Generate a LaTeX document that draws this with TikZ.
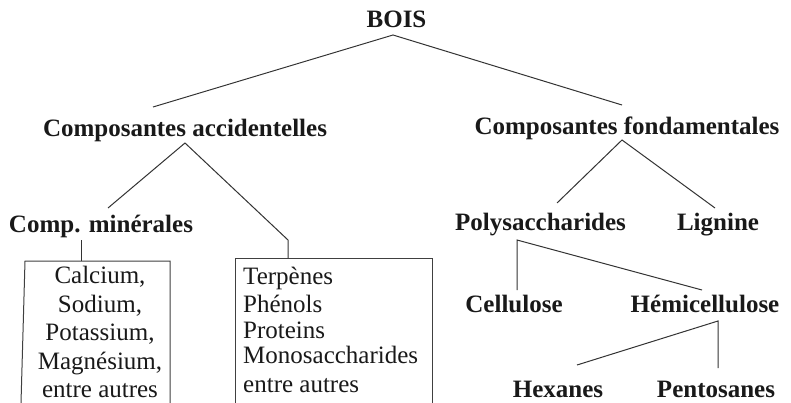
\documentclass[tikz,border=0pt]{standalone}
\usepackage{fontspec}
\setmainfont{Liberation Serif}
\begin{document}
\begin{tikzpicture}[x=1pt,y=-1pt,
  head/.style={font=\bfseries\fontsize{25}{29}\selectfont, anchor=base, inner sep=0pt, text=black!90},
  itemc/.style={font=\fontsize{25}{29}\selectfont, anchor=base, inner sep=0pt, text=black!90},
  iteml/.style={itemc, anchor=base west},
  link/.style={draw=black!80, line width=1pt},
  boxline/.style={draw=black!75, line width=1pt}]
\useasboundingbox[fill=white] (0,0) rectangle (791,403);
% headings
\node[head] (bois) at (396.5,28) {BOIS};
\node[head] (acc) at (185,137) {Composantes accidentelles};
\node[head] (fond) at (627,135) {Composantes fondamentales};
\node[head] (min) at (101,233) {Comp. minérales};
\node[head] (poly) at (540.5,230) {Polysaccharides};
\node[head] (lig) at (718,230) {Lignine};
\node[head] (cell) at (514,312) {Cellulose};
\node[head] (hemi) at (705,312) {Hémicellulose};
\node[head] (hex) at (558,397) {Hexanes};
\node[head] (pent) at (716,397) {Pentosanes};
% left box text
\node[itemc] (ca) at (100,283) {Calcium,};
\node[itemc] (na) at (100,312) {Sodium,};
\node[itemc] (k) at (100,340) {Potassium,};
\node[itemc] (mg) at (100,369) {Magnésium,};
\node[itemc] (ea1) at (100,397) {entre autres};
% right box text
\node[iteml] (terp) at (243,284) {Terpènes};
\node[iteml] (phen) at (243,312) {Phénols};
\node[iteml] (prot) at (243,338) {Proteins};
\node[iteml] (mono) at (243,363) {Monosaccharides};
\node[iteml] (ea2) at (243,392) {entre autres};
% connector points
\coordinate (bois-b) at (393,35);
\coordinate (acc-t) at (153,107);
\coordinate (fond-t) at (622,105);
\coordinate (acc-b) at (185,143);
\coordinate (min-t) at (108,208);
\coordinate (bend) at (288,240);
\coordinate (box2-t) at (288,258);
\coordinate (fond-b) at (622,140);
\coordinate (poly-t) at (557,203);
\coordinate (lig-t) at (715,208);
\coordinate (min-b) at (81,240);
\coordinate (box1-t) at (81,261);
\coordinate (poly-b) at (517,240);
\coordinate (cell-t) at (517,290);
\coordinate (hemi-t) at (702,290);
\coordinate (hemi-b) at (718,321);
\coordinate (hex-t) at (577,365);
\coordinate (pent-t) at (718,368);
% boxes (open at the bottom)
\coordinate (b1a) at (21,403); \coordinate (b1b) at (25,261);
\coordinate (b1c) at (170,261); \coordinate (b1d) at (170,403);
\coordinate (b2a) at (235,403); \coordinate (b2b) at (235,258);
\coordinate (b2c) at (432,258); \coordinate (b2d) at (432,403);
\draw[boxline] (b1a) -- (b1b) -- (b1c) -- (b1d);
\draw[boxline] (b2a) -- (b2b) -- (b2c) -- (b2d);
% connectors
\draw[link] (acc-t) -- (bois-b) -- (fond-t);
\draw[link] (min-t) -- (acc-b) -- (bend) -- (box2-t);
\draw[link] (poly-t) -- (fond-b) -- (lig-t);
\draw[link] (min-b) -- (box1-t);
\draw[link] (cell-t) -- (poly-b) -- (hemi-t);
\draw[link] (hex-t) -- (hemi-b) -- (pent-t);
\end{tikzpicture}
\end{document}
